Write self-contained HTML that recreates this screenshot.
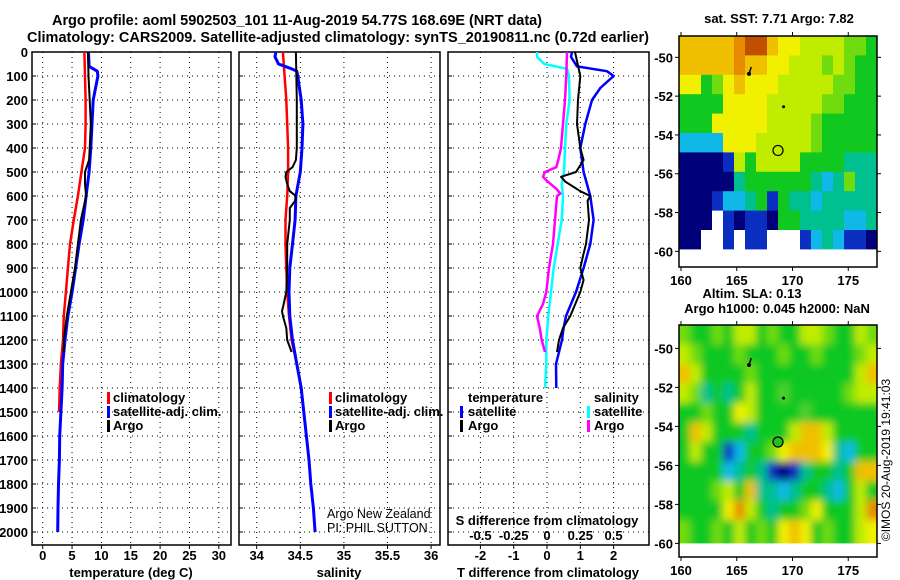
<!DOCTYPE html>
<html><head><meta charset="utf-8">
<style>
body{margin:0;background:#fff;}
svg{display:block;font-family:"Liberation Sans",sans-serif;}
.b{font-weight:bold;font-size:13px;}
.n{font-weight:normal;font-size:12.5px;}
.t{font-weight:bold;font-size:14.5px;}
</style></head>
<body>
<svg id="fig" width="900" height="580" viewBox="0 0 900 580" xmlns="http://www.w3.org/2000/svg">
<rect width="900" height="580" fill="#fff"/>
<defs>
<clipPath id="cp1"><rect x="32" y="52" width="199" height="493"/></clipPath>
<clipPath id="cp2"><rect x="239" y="52" width="201" height="493"/></clipPath>
<clipPath id="cp3"><rect x="448" y="52" width="201" height="493"/></clipPath>
<clipPath id="cm1"><rect x="679" y="36" width="198" height="231"/></clipPath>
<clipPath id="cm2"><rect x="679" y="325" width="198" height="232"/></clipPath>
<filter id="blur" x="-5%" y="-5%" width="110%" height="110%"><feGaussianBlur stdDeviation="4"/></filter>
</defs>
<text class="t" x="297" y="25" text-anchor="middle" textLength="490">Argo profile: aoml 5902503_101 11-Aug-2019 54.77S 168.69E (NRT data)</text>
<text class="t" x="338" y="42" text-anchor="middle" textLength="622">Climatology: CARS2009. Satellite-adjusted climatology: synTS_20190811.nc (0.72d earlier)</text>
<g id="g1"></g>
<g id="g2"></g>
<g id="g3"></g>
<g id="m1"></g>
<g id="m2"></g>
<text class="b" x="779" y="23" text-anchor="middle">sat. SST: 7.71 Argo: 7.82</text>
<text class="b" x="752" y="298" text-anchor="middle">Altim. SLA: 0.13</text>
<text class="b" x="777" y="313" text-anchor="middle">Argo h1000: 0.045 h2000: NaN</text>
<text x="890" y="460" font-size="12" text-anchor="middle" transform="rotate(-90 890 460)">©IMOS 20-Aug-2019 19:41:03</text>
</svg>
<script>
// ---------- data ----------
const depthTicks=[0,100,200,300,400,500,600,700,800,900,1000,1100,1200,1300,1400,1500,1600,1700,1800,1900,2000];
const tempTicks=[0,5,10,15,20,25,30];
const salTicks=[34,34.5,35,35.5,36];
const salTickLabels=["34","34.5","35","35.5","36"];
const tdTicks=[-2,-1,0,1,2];
const sdTicks=[-0.5,-0.25,0,0.25,0.5];
const sdTickLabels=["-0.5","-0.25","0","0.25","0.5"];

const tClimDepth=[0,100,200,300,400,500,600,700,800,900,1000,1100,1200,1300,1400,1500];
const tClim=[7.1,7.2,7.3,7.3,7.2,6.6,6.0,5.3,4.65,4.3,3.95,3.6,3.45,3.1,2.9,2.8];
const tSatDepth=[0,60,80,100,200,300,400,500,600,700,800,900,1000,1100,1200,1300,1400,1500,1600,1700,1800,1900,2000];
const tSat=[7.8,7.9,9.3,9.4,8.6,8.4,8.2,7.9,7.4,6.9,6.2,5.6,5.0,4.3,3.8,3.4,3.3,3.1,2.9,2.85,2.7,2.6,2.55];
const tArgoDepth=[0,100,200,300,400,450,500,550,600,700,800,900,1000,1100,1200,1250];
const tArgo=[7.7,7.8,8.0,8.2,8.0,7.9,7.2,7.2,7.4,6.5,6.0,5.5,4.8,4.1,3.6,3.6];

const sClimDepth=[0,100,200,300,400,500,600,700,800,900,1000,1100,1200,1300,1400,1500];
const sClim=[34.30,34.32,34.34,34.35,34.36,34.36,34.35,34.33,34.33,34.34,34.35,34.37,34.40,34.46,34.51,34.54];
const sSatDepth=[0,20,50,70,80,100,200,300,400,500,600,700,800,900,1000,1100,1200,1300,1400,1500,1600,1700,1800,1900,2000];
const sSat=[34.22,34.21,34.25,34.40,34.46,34.47,34.51,34.53,34.52,34.50,34.45,34.44,34.41,34.38,34.37,34.38,34.41,34.46,34.51,34.54,34.57,34.60,34.62,34.65,34.67];
const sArgoDepth=[0,200,400,450,480,500,520,550,580,600,620,650,700,800,900,1000,1050,1080,1100,1150,1200,1250];
const sArgo=[34.45,34.46,34.46,34.45,34.41,34.34,34.33,34.35,34.38,34.45,34.44,34.38,34.38,34.35,34.35,34.34,34.31,34.29,34.30,34.34,34.35,34.40];

const dTSatDepth=[0,20,60,80,100,150,200,300,400,500,600,700,800,900,1000,1050,1100,1150,1200,1300,1400];
const dTSat=[0.75,0.72,0.9,1.8,2.0,1.6,1.35,1.15,1.0,1.1,1.3,1.4,1.3,1.1,0.87,0.72,0.57,0.5,0.45,0.27,0.28];
const dTArgoDepth=[0,100,200,300,400,450,500,520,540,580,600,620,700,800,850,900,950,1000,1100,1150,1200,1250];
const dTArgo=[0.84,1.0,0.93,0.9,1.0,1.1,0.87,0.42,0.55,1.0,1.3,1.22,1.26,1.17,1.08,1.0,1.1,1.0,0.7,0.48,0.36,0.3];
const dSSatDepth=[0,20,50,70,100,200,300,400,500,550,600,700,800,900,1000,1100,1200,1300,1400];
const dSSat=[-0.075,-0.075,-0.02,0.15,0.165,0.17,0.145,0.135,0.128,0.11,0.12,0.11,0.08,0.05,0.03,0.01,-0.005,-0.005,-0.015];
const dSArgoDepth=[0,100,200,300,400,450,480,500,520,540,570,590,600,700,800,900,1000,1050,1100,1150,1200,1250];
const dSArgo=[0.15,0.145,0.135,0.12,0.105,0.085,0.07,-0.015,-0.03,0.005,0.07,0.1,0.075,0.06,0.045,0.015,-0.005,-0.03,-0.075,-0.055,-0.04,-0.015];

const sstRows=[
"oooooOrroYYyyyyllg","oooooOooYYyyylylgg","YYglYoYYYyyyyyllgg","ggggYYYYyyyyyllggg",
"gggYYYYYyyyylggggg","ccccYYYyyyyylggggg","ddddbygyyyyggggttt","dddddtggggggtctltt",
"dddbcctgbgttcttttt","dddwbdbbdggttttcct","ddwwbwbbwwwbctcbbd","wwwwwwwwwwwwwwwwww"];
const slaRows=[
"lgglgyyglggyylggyl","ylggglggglgglgggly","oygggglgggggggggyo","yltgtgyggIggggglyy",
"gglggYyggggIgggggg","goygggtgggyooygggg","gyggbcgglYoooYtcgg","ggggctgtbdbtggtgoo",
"ggglygottctggtcgyg","ggggYOygtgglYgggyO","lgglgyglgYoYglggyY","lgglgyglgYoYglggyY"];
const palette={d:"#00007a",b:"#0a2fc0",c:"#10b8e8",t:"#00c090",g:"#10c820",l:"#70dc10",I:"#50d030",y:"#c0ec00",Y:"#f0f000",o:"#f0c000",O:"#e88a00",r:"#c05000",w:"#ffffff"};

// ---------- helpers ----------
const NS="http://www.w3.org/2000/svg";
function mk(parent,tag,attrs){const e=document.createElementNS(NS,tag);for(const k in attrs)e.setAttribute(k,attrs[k]);parent.appendChild(e);return e;}
const yD=d=>52+d*0.24;
const xT=t=>42.7+t*5.87;
const xS=s=>256.7+(s-34)*87.2;
const xTD=v=>547+v*33.3;
const xSD=v=>547+v*133.2;

function frame(g,x0,x1,xticks,xfn,labels,showY){
  depthTicks.forEach(d=>{
    const l=mk(g,'line',{x1:x0,x2:x1,y1:yD(d),y2:yD(d),stroke:'#000','stroke-width':1,'stroke-dasharray':'1,4'});
    
    
    mk(g,'line',{x1:x0,x2:x0+4,y1:yD(d),y2:yD(d),stroke:'#000'});
    if(showY){const t=mk(g,'text',{x:28,y:yD(d)+5,'text-anchor':'end',class:'b'});t.textContent=d;
      
      }
  });
  xticks.forEach((v,i)=>{
    const x=xfn(v);
    const l=mk(g,'line',{x1:x,x2:x,y1:52,y2:545,stroke:'#000','stroke-dasharray':'1,4'});
    
    
    mk(g,'line',{x1:x,x2:x,y1:545,y2:549,stroke:'#000'});
    const t=mk(g,'text',{x:x,y:560,'text-anchor':'middle',class:'b'});t.textContent=labels[i];
    
    
  });
  const r=mk(g,'rect',{x:x0,y:52,width:x1-x0,height:493,fill:'none',stroke:'#000','stroke-width':1.5});
  
  
}
function line(g,clip,ds,vs,xfn,color,w,name){
  const pts=ds.map((d,i)=>xfn(vs[i]).toFixed(1)+','+yD(d).toFixed(1)).join(' ');
  const p=mk(g,'polyline',{points:pts,fill:'none',stroke:color,'stroke-width':w,'clip-path':'url(#'+clip+')','stroke-linejoin':'round'});
  
  
}
function txt(g,x,y,s,cls,name,extra){const t=mk(g,'text',Object.assign({x:x,y:y,class:cls},extra||{}));t.textContent=s;
  
  return t;}
function legendMark(g,x,y,color,name){const r=mk(g,'rect',{x:x,y:y-10,width:3,height:12,fill:color});
  
  }

// ---------- panel 1 ----------
const g1=document.getElementById('g1');
frame(g1,32,231,tempTicks,xT,tempTicks.map(String),true);
line(g1,'cp1',tClimDepth,tClim,xT,'#ff0000',2.5,'temp-climatology-line');
line(g1,'cp1',tSatDepth,tSat,xT,'#0000ff',3,'temp-satellite-line');
line(g1,'cp1',tArgoDepth,tArgo,xT,'#000000',2,'temp-argo-line');
txt(g1,131,577,'temperature (deg C)','b','temperature-axis-title',{'text-anchor':'middle'});
legendMark(g1,107,402,'#ff0000','legend-climatology-mark');txt(g1,113,402,'climatology','b','legend-climatology');
legendMark(g1,107,416,'#0000ff','legend-satellite-mark');txt(g1,113,416,'satellite-adj. clim.','b','legend-satellite');
legendMark(g1,107,430,'#000','legend-argo-mark');txt(g1,113,430,'Argo','b','legend-argo');

// ---------- panel 2 ----------
const g2=document.getElementById('g2');
frame(g2,239,440,salTicks,xS,salTickLabels,false);
line(g2,'cp2',sClimDepth,sClim,xS,'#ff0000',2.5,'sal-climatology-line');
line(g2,'cp2',sSatDepth,sSat,xS,'#0000ff',3,'sal-satellite-line');
line(g2,'cp2',sArgoDepth,sArgo,xS,'#000000',2,'sal-argo-line');
txt(g2,339,577,'salinity','b','salinity-axis-title',{'text-anchor':'middle'});
legendMark(g2,329,402,'#ff0000','legend2-climatology-mark');txt(g2,335,402,'climatology','b','legend2-climatology');
legendMark(g2,329,416,'#0000ff','legend2-satellite-mark');txt(g2,335,416,'satellite-adj. clim.','b','legend2-satellite');
legendMark(g2,329,430,'#000','legend2-argo-mark');txt(g2,335,430,'Argo','b','legend2-argo');
txt(g2,327,518,'Argo New Zealand','n','credit-argo-nz');
txt(g2,327,532,'PI: PHIL SUTTON','n','credit-pi');

// ---------- panel 3 ----------
const g3=document.getElementById('g3');
frame(g3,448,649,tdTicks,xTD,tdTicks.map(String),false);
line(g3,'cp3',dSSatDepth,dSSat,xSD,'#00ffff',2.5,'sdiff-satellite-line');
line(g3,'cp3',dSArgoDepth,dSArgo,xSD,'#ff00ff',2.5,'sdiff-argo-line');
line(g3,'cp3',dTSatDepth,dTSat,xTD,'#0000ff',2.5,'tdiff-satellite-line');
line(g3,'cp3',dTArgoDepth,dTArgo,xTD,'#000000',2,'tdiff-argo-line');
txt(g3,548,577,'T difference from climatology','b','tdiff-axis-title',{'text-anchor':'middle'});
txt(g3,547,525,'S difference from climatology','b','sdiff-axis-title',{'text-anchor':'middle'});
sdTicks.forEach((v,i)=>{txt(g3,xSD(v),540,sdTickLabels[i],'b','sdiff-tick-label',{'text-anchor':'middle'});});
txt(g3,468,402,'temperature','b','legend3-temperature-header');
txt(g3,594,402,'salinity','b','legend3-salinity-header');
legendMark(g3,460,416,'#0000ff','legend3-tsat-mark');txt(g3,468,416,'satellite','b','legend3-tsat');
legendMark(g3,460,430,'#000','legend3-targo-mark');txt(g3,468,430,'Argo','b','legend3-targo');
legendMark(g3,587,416,'#00ffff','legend3-ssat-mark');txt(g3,594,416,'satellite','b','legend3-ssat');
legendMark(g3,587,430,'#ff00ff','legend3-sargo-mark');txt(g3,594,430,'Argo','b','legend3-sargo');

// ---------- maps ----------
const lonTicks=[160,165,170,175];
const latTicks=[-50,-52,-54,-56,-58,-60];
const argoLon=168.7, argoLat=-54.8;
function map(id,clip,top,bottom,lat0,pxPerLat,rows,blur,circleFill){
  const g=document.getElementById(id);
  const xL=lon=>681+(lon-160)*11.15;
  const yL=lat=>top+(lat0-lat)*pxPerLat;
  const cells=mk(g,'g',{'clip-path':'url(#'+clip+')'});
  const inner=mk(cells,'g',blur?{filter:'url(#blur)'}:{});
  const cw=198/18;
  if(blur) mk(inner,'rect',{x:660,y:top-20,width:240,height:bottom-top+40,fill:palette.g});
  rows.forEach((row,r)=>{
    for(let c=0;c<18;c++){
      const ch=row[c]||'g';
      let x=679+c*cw, w=cw+0.5;
      if(blur&&c===0){x-=12;w+=12;}
      if(blur&&c===17){w+=12;}
      const y=top+r*pxPerLat-(blur&&r===0?12:0);
      const h=pxPerLat+0.5+(blur&&r===0?12:0);
      const rc=mk(inner,'rect',{x:x,y:y,width:w,height:h,fill:palette[ch]});
      
      
    }
  });
  mk(cells,'rect',{x:679,y:yL(-60),width:198,height:bottom-yL(-60),fill:'#fff'});
  mk(g,'rect',{x:679,y:top,width:198,height:bottom-top,fill:'none',stroke:'#000','stroke-width':1.5});
  lonTicks.forEach(l=>{const x=xL(l);
    mk(g,'line',{x1:x,x2:x,y1:top,y2:top-4,stroke:'#000'});
    mk(g,'line',{x1:x,x2:x,y1:bottom,y2:bottom+4,stroke:'#000'});
    txt(g,x,bottom+18,String(l),'b','map-lon-label',{'text-anchor':'middle'});});
  latTicks.forEach(l=>{const y=yL(l);
    mk(g,'line',{x1:877,x2:881,y1:y,y2:y,stroke:'#000'});
    mk(g,'line',{x1:675,x2:679,y1:y,y2:y,stroke:'#000'});
    txt(g,673,y+5,String(l),'b','map-lat-label',{'text-anchor':'end'});});
  const ci=mk(g,'circle',{cx:xL(argoLon),cy:yL(argoLat),r:5,fill:circleFill,stroke:'#000','stroke-width':1.2});
  
  
  mk(g,'circle',{cx:xL(166.1),cy:yL(-50.85),r:2,fill:'#000'});
  mk(g,'line',{x1:xL(166.1),y1:yL(-50.85),x2:xL(166.3),y2:yL(-50.5),stroke:'#000','stroke-width':1.5});
  mk(g,'circle',{cx:xL(169.2),cy:yL(-52.55),r:1.5,fill:'#000'});
}
map('m1','cm1',36,267,-48.9,19.4,sstRows,false,'none');
map('m2','cm2',325,557,-48.8,19.5,slaRows,true,'#20c020');
</script>
</body></html>
